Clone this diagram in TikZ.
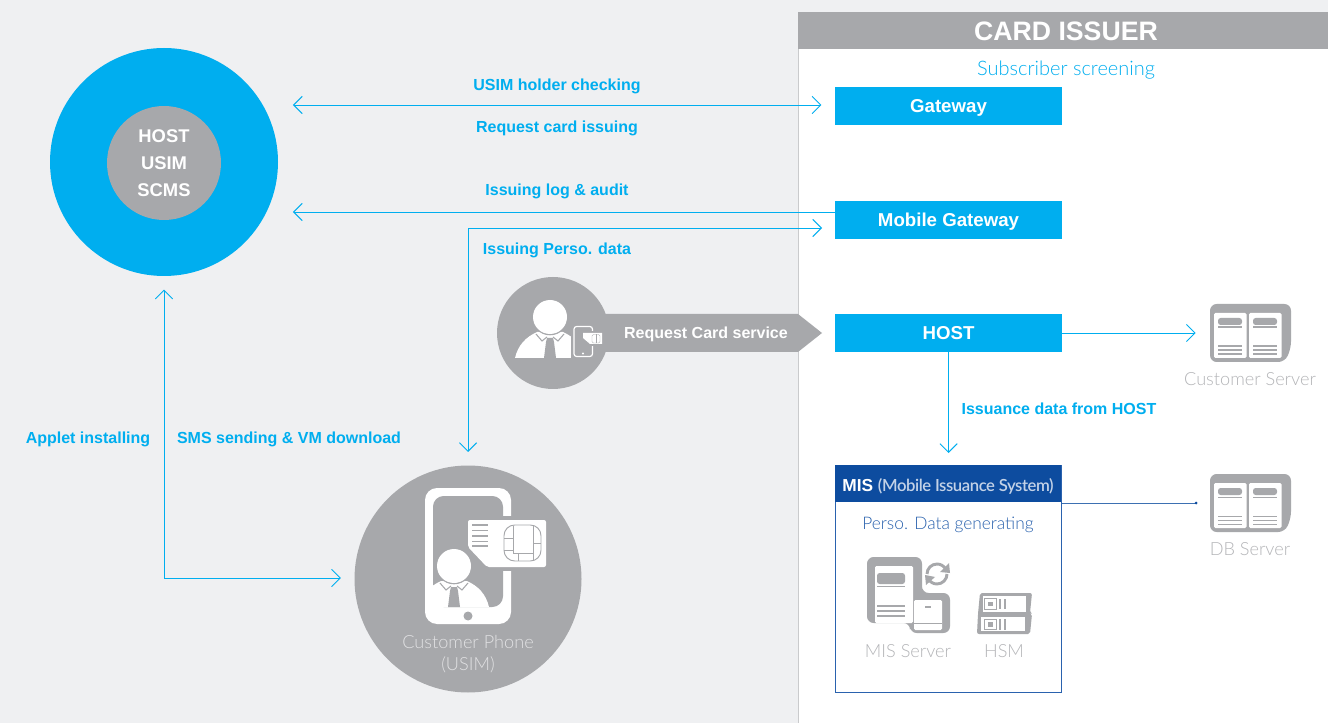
\documentclass[tikz,border=0pt]{standalone}
\usepackage{fontspec}
\setmainfont{Liberation Sans}
\newfontfamily\lightf{Lato Light}
\newfontfamily\lightg[LetterSpace=-2.5]{Lato Light}
\usetikzlibrary{arrows.meta,calc}
\definecolor{bgc}{HTML}{EFF0F2}
\definecolor{gry}{HTML}{A7A8AB}
\definecolor{cyn}{HTML}{00AEEF}
\definecolor{dkb}{HTML}{0D4C9F}
\definecolor{mdb}{HTML}{2A62AE}
\definecolor{lgt}{HTML}{B4B5B8}
\newcommand{\fs}[1]{\fontsize{#1}{#1}\selectfont}
\tikzset{
 x=0.75pt,y=-0.75pt,
 txt/.style={inner sep=0pt,text height=0.72em,text depth=0pt,align=center},
 lab/.style={txt,text=cyn,font=\fs{12}\bfseries},
 boxc/.style={fill=cyn,minimum width=170.25pt,minimum height=28.5pt,inner sep=0pt,text=white,text height=10pt,text depth=0pt,font=\fs{14}\bfseries},
 wht/.style={txt,text=white,font=\fs{13.8}\bfseries},
 capt/.style={txt,text=lgt,font=\fs{13.6}\lightf},
 barb/.tip={Straight Barb[length=6.5pt,width=13pt,line width=0.7pt]},
 arr/.style={draw=cyn,line width=0.7pt,-barb},
 dbl/.style={draw=cyn,line width=0.7pt,barb-barb},
 personic/.pic={
  \fill[white] (-35,41) .. controls (-32,28) and (-24,20) .. (-13,15) -- (13,15) .. controls (24,20) and (32,28) .. (35,41) -- cycle;
  \fill[gry] (-3,21) -- (3,21) -- (4,25) -- (6,41) -- (-6,41) -- (-4,25) -- cycle;
  \draw[gry,line width=0.8pt] (-14,17) -- (-8,24) -- (-3,20) (14,17) -- (8,24) -- (3,20);
  \fill[gry] (0,0) circle (18.3);
  \fill[white] (0,0) circle (17);
 },
 serveric/.pic={
  \fill[gry,rounded corners=5pt] (0,0) -- (81,0) -- (81,44) -- (75,58) -- (0,58) -- cycle;
  \foreach \px in {4,39}{
   \fill[white,rounded corners=1pt] (\px,9) rectangle ++(32.5,45);
   \fill[gry,rounded corners=2pt] (\px+4,14) rectangle ++(24,7);
   \fill[gry] (\px+4,22.5) rectangle ++(24,1.2);
   \foreach \ly in {41.5,45.5,49.5}{\fill[gry] (\px+4,\ly) rectangle ++(24,1.4);}
  }
 }
}
\begin{document}
\begin{tikzpicture}
\useasboundingbox (0,0) rectangle (1328,723);
\fill[bgc] (0,0) rectangle (1328,723);
% right panel
\fill[white] (798,49) rectangle (1328,723);
\draw[lgt!70!white,line width=0.75pt] (798,12) -- (798,723);
\fill[gry] (798,12) rectangle (1328,49);
\node[txt,text=white,font=\fs{20}\bfseries] (issuer) at (1066,35.5) {CARD ISSUER};
\node[txt,text=cyn,font=\fs{15}\lightf] (screen) at (1066,70.5) {Subscriber screening};
% boxes
\node[boxc] (gw) at (948.5,106) {Gateway};
\node[boxc] (mgw) at (948.5,220) {Mobile Gateway};
\node[boxc] (host) at (948.5,333) {HOST};
% host circle
\node[circle,fill=cyn,minimum size=171pt,inner sep=0pt] (hc) at (164,162) {};
\node[circle,fill=gry,minimum size=85.5pt,inner sep=0pt] (hi) at (164,163) {};
\node[wht] (h1) at (164,138) {HOST};
\node[wht] (h2) at (164,165) {USIM};
\node[wht] (h3) at (164,192) {SCMS};
% request arrow + circle
\fill[gry] (600,314) -- (798,314) -- (822,333) -- (798,352) -- (600,352) -- cycle;
\node[circle,fill=gry,minimum size=84pt,inner sep=0pt] (req) at (553,333) {};
\pic at (550,317) {personic};
\fill[gry] (571,320) rectangle (596,358);
\draw[white,line width=0.9pt,rounded corners=2pt] (574,326.5) rectangle (592.5,356.5);
\fill[gry] (589,331) rectangle (594,346);
\fill[white] (583,353.5) circle (1.2);
\fill[white] (583,333) -- (602,333) -- (602,344) -- (590,344) -- (583,338) -- cycle;
\draw[gry,line width=0.3pt,rounded corners=1pt] (592,334.5) rectangle (600,343);
\draw[gry,line width=0.3pt] (596,334.5) -- (596,343);
\node[txt,text=white,font=\fs{12}\bfseries] (reqt) at (706,333.5) {Request Card service};
% customer phone
\node[circle,fill=gry,minimum size=170.25pt,inner sep=0pt] (ph) at (468,579) {};
\fill[white,rounded corners=9pt] (425,488) rectangle (511,624);
\fill[gry,rounded corners=8pt] (433,496) rectangle (503,607);
\fill[gry] (500,516) rectangle (512,571);
\fill[gry] (468,616) circle (4.5);
\begin{scope}
\clip (433,496) rectangle (503,607);
\pic at (454,566) {personic};
\end{scope}
\fill[white,rounded corners=1.5pt] (468,520) -- (546,520) -- (546,567) -- (487,567) -- (468,547) -- cycle;
\foreach \ly in {524,529.5,535,540.5,545}{\fill[gry] (472,\ly) rectangle (488,\ly+1.5);}
\draw[gry,line width=0.7pt,rounded corners=8pt] (504,525) rectangle (541,561);
\draw[gry,line width=0.7pt] (513,526) -- (513,553) (504,538) -- (513,538) (504,550) -- (513,550) (513,553) -- (533,553) -- (533,526) (533,543) -- (541,543) (518,553)--(518,561) (533,553)--(533,561);
\node[txt,text=lgt!40!white,font=\fs{13.6}\lightf] (pht1) at (468,644) {Customer Phone};
\node[txt,text=lgt!40!white,font=\fs{13.6}\lightf] (pht2) at (468,666) {(USIM)};
% servers
\pic at (1210,304) {serveric};
\pic at (1210,474) {serveric};
\node[inner sep=0pt,minimum width=60pt,minimum height=43pt] (cs) at (1250,333) {};
\node[inner sep=0pt,minimum width=60pt,minimum height=43pt] (dbs) at (1250,503) {};
\node[capt] (cst) at (1250,381) {Customer Server};
\node[capt] (dbt) at (1250,551) {DB Server};
% MIS
\node[draw=mdb,line width=0.8pt,fill=white,minimum width=169.5pt,minimum height=170.25pt,inner sep=0pt,anchor=north west] (mis) at (835,465) {};
\fill[dkb] (835,465) rectangle (1061,502);
\node[inner sep=0pt,text height=0.72em,text depth=0pt,text=white,font=\fs{13}\bfseries] (mist) at (948,487) {MIS {\lightg\fs{12.5}\color{white!75!dkb}(Mobile Issuance System)}};
\node[txt,text=mdb,font=\fs{13}\lightf] (pdg) at (948,525) {Perso. Data generating};
% MIS server icon
\fill[gry,rounded corners=5pt] (867,557) -- (922,557) -- (922,593) -- (950,593) -- (950,633) -- (910,633) -- (910,623) -- (867,623) -- cycle;
\fill[white,rounded corners=1pt] (875,566) rectangle (913,623);
\fill[white,rounded corners=1pt] (914,600) rectangle (942,630);
\fill[gry,rounded corners=2pt] (877,573) rectangle (905,584);
\fill[gry] (877,586) rectangle (905,587.2);
\foreach \ly in {605,610,615}{\fill[gry] (877,\ly) rectangle (905,\ly+1.5);}
\fill[gry] (925,606) rectangle (931,608);
\fill[gry] (914,622.5) rectangle (942,624);
\draw[gry,line width=2.2pt] (927,574) arc[start angle=180,end angle=330,radius=10];
\draw[gry,line width=2.2pt] (947,574) arc[start angle=0,end angle=150,radius=10];
\fill[gry] (949,563) -- (950,573) -- (940,572) -- cycle;
\fill[gry] (926,585) -- (925,575) -- (935,577) -- cycle;
\node[capt] (mst) at (908,653) {MIS Server};
% HSM icon
\fill[gry,rounded corners=1.5pt] (980,593) -- (1032,593) -- (1030,613) -- (1032,614) -- (1030,634) -- (977,634) -- (978,614) -- cycle;
\fill[white] (983,596) rectangle (1026,612);
\fill[white] (981,617) rectangle (1025,631);
\foreach \hy in {598.5,619}{
 \draw[gry,line width=0.7pt] (984,\hy) rectangle ++(12.5,10.5);
 \fill[gry] (987.5,\hy+3) rectangle ++(5.5,4.5);
 \fill[gry] (998.5,\hy) rectangle ++(2.5,10.5);
 \fill[gry] (1003.5,\hy) rectangle ++(2.5,10.5);
}
\node[capt] (hsmt) at (1004,653) {HSM};
% connectors
\coordinate (phtop) at (468,452);
\coordinate (corner) at (468,228);
\coordinate (perso) at (822,228);
\coordinate (corner2) at (164,578);
\coordinate (mlog) at ([yshift=6pt]mgw.west);
\coordinate (gwa) at ([yshift=0.75pt]gw.west);
\coordinate (dbe) at (1196,503);
\draw[dbl,shorten <=11pt,shorten >=10pt] (hc.east |- gwa) -- (gwa);
\draw[arr,shorten >=11pt] (mlog) -- (hc.east |- mlog);
\draw[dbl] (phtop) -- (corner) -- (perso);
\draw[dbl,shorten <=10pt,shorten >=10pt] (hc.south) -- (corner2) -- (ph.west |- corner2);
\draw[arr,shorten >=10.5pt] (host.east) -- (cs.west);
\draw[arr,shorten >=9pt] (host.south) -- (mis.north -| host.south);
\draw[dkb!80!white,line width=0.7pt] (mis.east |- dbe) -- (dbe);
\fill[dkb] (dbe) circle (1.5);
% labels
\node[lab] (l1) at (557,85.5) {USIM holder checking};
\node[lab] (l2) at (557,127.5) {Request card issuing};
\node[lab] (l3) at (557,190.5) {Issuing log \& audit};
\node[lab] (l4) at (557,249.5) {Issuing Perso. data};
\node[lab] (l5) at (88,438.5) {Applet installing};
\node[lab] (l6) at (289,438.5) {SMS sending \& VM download};
\node[lab] (l7) at (1059,409.5) {Issuance data from HOST};
\end{tikzpicture}
\end{document}
